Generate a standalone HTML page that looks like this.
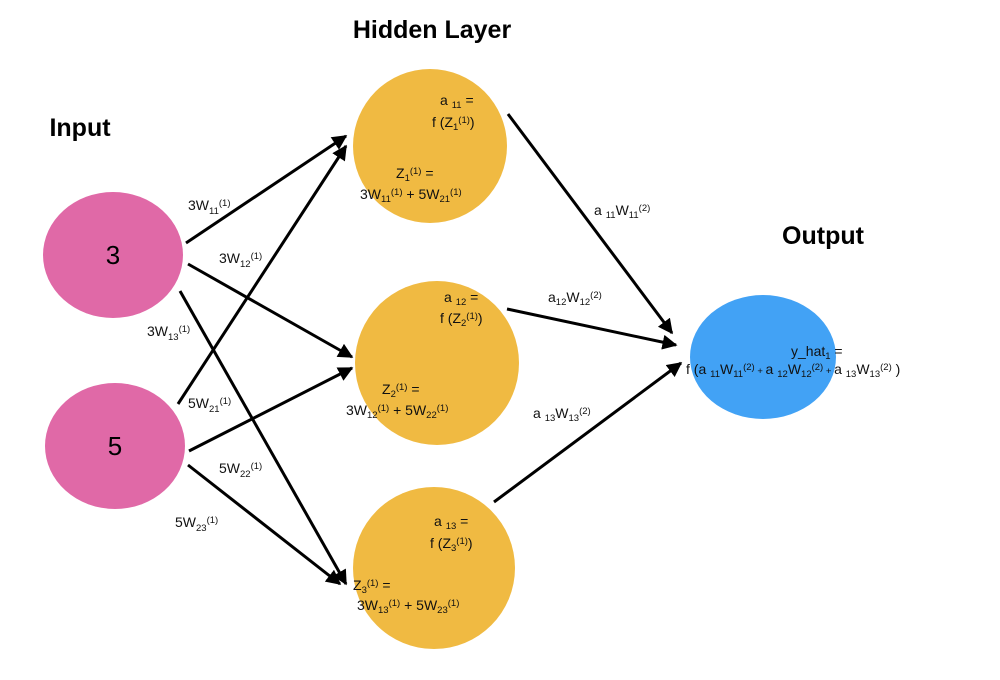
<!DOCTYPE html>
<html><head><meta charset="utf-8"><style>
html,body{margin:0;padding:0;background:#fff;}
svg{display:block;font-family:"Liberation Sans",Arial,sans-serif;}
.t{font-size:14px;fill:#111;}
.b{font-size:9.5px;}
</style></head><body>
<svg width="1000" height="680" viewBox="0 0 1000 680">
<defs>
<marker id="ah" viewBox="0 0 10 10" refX="9" refY="5" markerWidth="5" markerHeight="5" orient="auto" markerUnits="strokeWidth">
<path d="M0,0 L10,5 L0,10 z" fill="#000"/></marker>
</defs>
<text x="432" y="38" font-size="25" font-weight="bold" text-anchor="middle">Hidden Layer</text>
<text x="80" y="136" font-size="25" font-weight="bold" text-anchor="middle">Input</text>
<text x="823" y="244" font-size="25" font-weight="bold" text-anchor="middle">Output</text>

<ellipse cx="113" cy="255" rx="70" ry="63" fill="#e069a7"/>
<ellipse cx="115" cy="446" rx="70" ry="63" fill="#e069a7"/>
<circle cx="430" cy="146" r="77" fill="#f0ba42"/>
<circle cx="437" cy="363" r="82" fill="#f0ba42"/>
<circle cx="434" cy="568" r="81" fill="#f0ba42"/>
<ellipse cx="763" cy="357" rx="73" ry="62" fill="#42a2f5"/>

<text x="113" y="264" font-size="26" text-anchor="middle">3</text>
<text x="115" y="455" font-size="26" text-anchor="middle">5</text>

<g stroke="#000" stroke-width="3" fill="none" marker-end="url(#ah)">
<line x1="186" y1="243" x2="346" y2="136"/>
<line x1="188" y1="264" x2="352" y2="357"/>
<line x1="180" y1="291" x2="346" y2="584"/>
<line x1="178" y1="404" x2="346" y2="146"/>
<line x1="189" y1="451" x2="352" y2="368"/>
<line x1="188" y1="465" x2="340" y2="584"/>
<line x1="508" y1="114" x2="672" y2="333"/>
<line x1="507" y1="309" x2="676" y2="345"/>
<line x1="494" y1="502" x2="681" y2="363"/>
</g>

<g class="t">
<text x="188" y="210">3W<tspan class="b" dy="4">11</tspan><tspan class="b" dy="-8">(1)</tspan></text>
<text x="219" y="263">3W<tspan class="b" dy="4">12</tspan><tspan class="b" dy="-8">(1)</tspan></text>
<text x="147" y="336">3W<tspan class="b" dy="4">13</tspan><tspan class="b" dy="-8">(1)</tspan></text>
<text x="188" y="408">5W<tspan class="b" dy="4">21</tspan><tspan class="b" dy="-8">(1)</tspan></text>
<text x="219" y="473">5W<tspan class="b" dy="4">22</tspan><tspan class="b" dy="-8">(1)</tspan></text>
<text x="175" y="527">5W<tspan class="b" dy="4">23</tspan><tspan class="b" dy="-8">(1)</tspan></text>

<text x="440" y="105">a <tspan class="b" dy="3">11</tspan><tspan dy="-3"> =</tspan></text>
<text x="432" y="127">f (Z<tspan class="b" dy="3">1</tspan><tspan class="b" dy="-7">(1)</tspan><tspan dy="4">)</tspan></text>
<text x="396" y="178">Z<tspan class="b" dy="3">1</tspan><tspan class="b" dy="-7">(1)</tspan><tspan dy="4"> =</tspan></text>
<text x="360" y="199">3W<tspan class="b" dy="3">11</tspan><tspan class="b" dy="-7">(1)</tspan><tspan dy="4"> + 5W</tspan><tspan class="b" dy="3">21</tspan><tspan class="b" dy="-7">(1)</tspan></text>

<text x="444" y="302">a <tspan class="b" dy="3">12</tspan><tspan dy="-3"> =</tspan></text>
<text x="440" y="323">f (Z<tspan class="b" dy="3">2</tspan><tspan class="b" dy="-7">(1)</tspan><tspan dy="4">)</tspan></text>
<text x="382" y="394">Z<tspan class="b" dy="3">2</tspan><tspan class="b" dy="-7">(1)</tspan><tspan dy="4"> =</tspan></text>
<text x="346" y="415">3W<tspan class="b" dy="3">12</tspan><tspan class="b" dy="-7">(1)</tspan><tspan dy="4"> + 5W</tspan><tspan class="b" dy="3">22</tspan><tspan class="b" dy="-7">(1)</tspan></text>

<text x="434" y="526">a <tspan class="b" dy="3">13</tspan><tspan dy="-3"> =</tspan></text>
<text x="430" y="548">f (Z<tspan class="b" dy="3">3</tspan><tspan class="b" dy="-7">(1)</tspan><tspan dy="4">)</tspan></text>
<text x="353" y="590">Z<tspan class="b" dy="3">3</tspan><tspan class="b" dy="-7">(1)</tspan><tspan dy="4"> =</tspan></text>
<text x="357" y="610">3W<tspan class="b" dy="3">13</tspan><tspan class="b" dy="-7">(1)</tspan><tspan dy="4"> + 5W</tspan><tspan class="b" dy="3">23</tspan><tspan class="b" dy="-7">(1)</tspan></text>

<text x="594" y="215">a <tspan class="b" dy="3">11</tspan><tspan dy="-3">W</tspan><tspan class="b" dy="3">11</tspan><tspan class="b" dy="-7">(2)</tspan></text>
<text x="548" y="302">a<tspan class="b" dy="3">12</tspan><tspan dy="-3">W</tspan><tspan class="b" dy="3">12</tspan><tspan class="b" dy="-7">(2)</tspan></text>
<text x="533" y="418">a <tspan class="b" dy="3">13</tspan><tspan dy="-3">W</tspan><tspan class="b" dy="3">13</tspan><tspan class="b" dy="-7">(2)</tspan></text>

<text x="791" y="356">y_hat<tspan class="b" dy="3">1</tspan><tspan dy="-3"> =</tspan></text>
<text x="686" y="374">f (a <tspan class="b" dy="3">11</tspan><tspan dy="-3">W</tspan><tspan class="b" dy="3">11</tspan><tspan class="b" dy="-7">(2)</tspan><tspan class="b" dy="4"> + </tspan><tspan>a </tspan><tspan class="b" dy="3">12</tspan><tspan dy="-3">W</tspan><tspan class="b" dy="3">12</tspan><tspan class="b" dy="-7">(2)</tspan><tspan class="b" dy="4"> + </tspan><tspan>a </tspan><tspan class="b" dy="3">13</tspan><tspan dy="-3">W</tspan><tspan class="b" dy="3">13</tspan><tspan class="b" dy="-7">(2)</tspan><tspan dy="4"> )</tspan></text>
</g>
</svg>
</body></html>
